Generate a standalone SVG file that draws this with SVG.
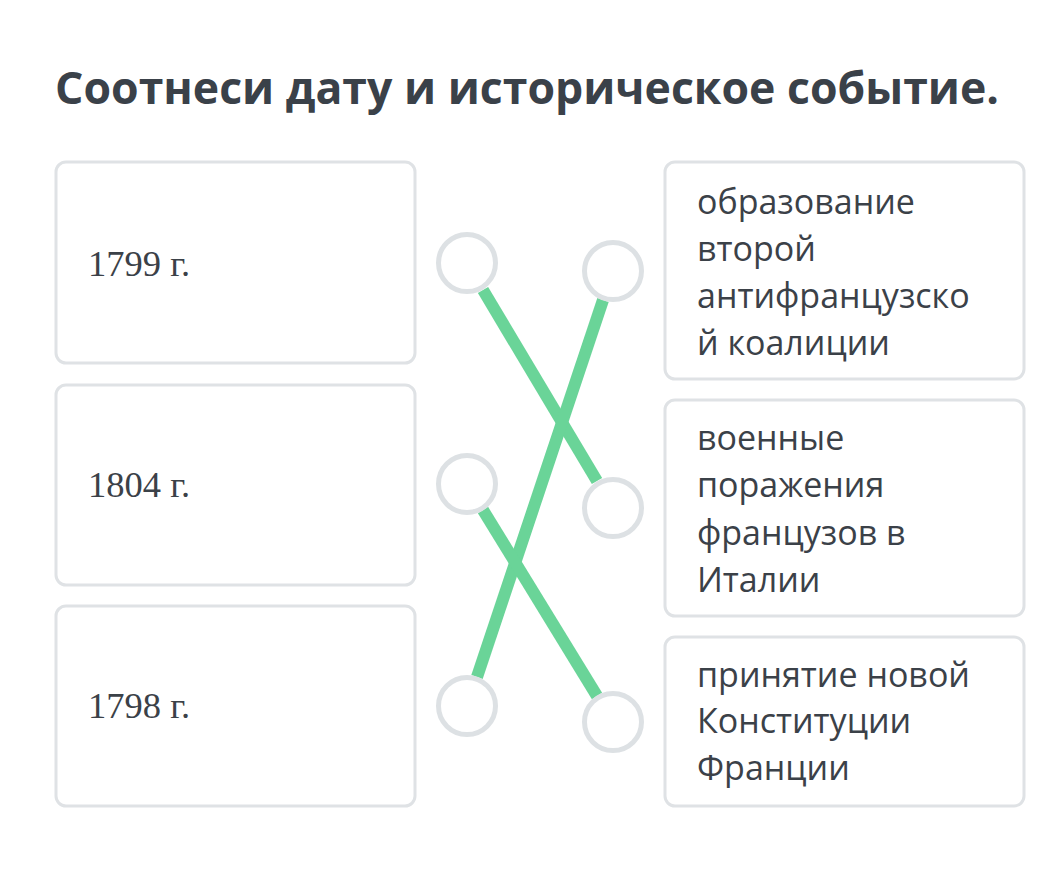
<svg xmlns="http://www.w3.org/2000/svg" width="1060" height="892" viewBox="0 0 1060 892">
<style>
.box{fill:#ffffff;stroke:#dfe2e5;stroke-width:3}
.dot{fill:#ffffff;stroke:#dde1e4;stroke-width:5}
.date{font-family:"Liberation Serif",serif;font-size:36.5px;fill:#3b4148}
.ev{font-family:"Open Sans","Noto Sans",sans-serif;font-size:34px;fill:#3b4148}
.title{font-family:"Open Sans","Noto Sans",sans-serif;font-size:44.6px;font-weight:700;fill:#3a4149}
.link{stroke:#6ad498;stroke-width:12;stroke-linecap:butt;fill:none}
</style>
<rect width="1060" height="892" fill="#ffffff"/>
<text class="title" x="55" y="104">Соотнеси дату и историческое событие.</text>

<g id="connectors">
<line class="link" x1="483" y1="290" x2="597" y2="481"/>
<line class="link" x1="603" y1="300" x2="477" y2="677"/>
<line class="link" x1="483" y1="510" x2="597" y2="696"/>
</g>

<g id="d1799">
<rect class="box" x="56" y="162" width="359" height="201" rx="10"/>
<text class="date" x="88" y="276">1799 г.</text>
<circle class="dot" cx="467" cy="263" r="28.5"/>
</g>
<g id="d1804">
<rect class="box" x="56" y="385" width="359" height="200" rx="10"/>
<text class="date" x="88" y="497">1804 г.</text>
<circle class="dot" cx="467" cy="484" r="28.5"/>
</g>
<g id="d1798">
<rect class="box" x="56" y="606" width="359" height="200" rx="10"/>
<text class="date" x="88" y="718">1798 г.</text>
<circle class="dot" cx="467" cy="706" r="28.5"/>
</g>

<g id="e1">
<rect class="box" x="665" y="162" width="359" height="217" rx="10"/>
<text class="ev" x="697" y="214">образование</text>
<text class="ev" x="697" y="261">второй</text>
<text class="ev" x="697" y="308">антифранцузско</text>
<text class="ev" x="697" y="355">й коалиции</text>
<circle class="dot" cx="613" cy="271" r="28.5"/>
</g>
<g id="e2">
<rect class="box" x="665" y="400" width="359" height="216" rx="10"/>
<text class="ev" x="697" y="450">военные</text>
<text class="ev" x="697" y="497">поражения</text>
<text class="ev" x="697" y="545">французов в</text>
<text class="ev" x="697" y="592">Италии</text>
<circle class="dot" cx="613" cy="508" r="28.5"/>
</g>
<g id="e3">
<rect class="box" x="665" y="637" width="359" height="169" rx="10"/>
<text class="ev" x="697" y="687">принятие новой</text>
<text class="ev" x="697" y="733">Конституции</text>
<text class="ev" x="697" y="780">Франции</text>
<circle class="dot" cx="613" cy="722" r="28.5"/>
</g>
</svg>
